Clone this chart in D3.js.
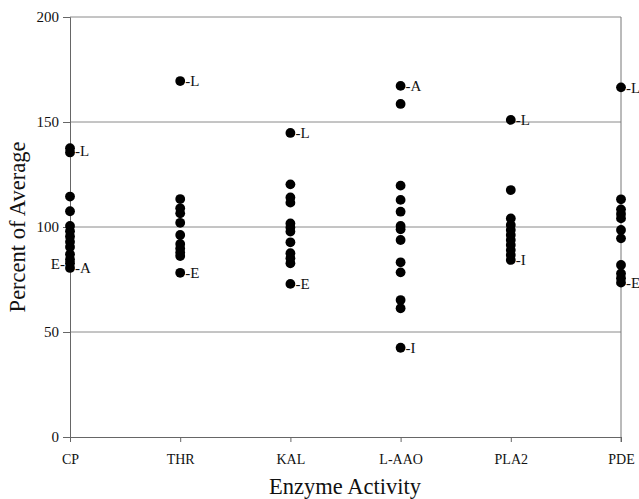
<!DOCTYPE html>
<html>
<head>
<meta charset="utf-8">
<script src="https://cdn.jsdelivr.net/npm/d3@7"></script>
<style>
  body { margin: 0; background: #fff; }
  text { font-family: "Liberation Serif", "Times New Roman", serif; fill: #111; }
</style>
</head>
<body>
<div class="chart"></div>
<script>
var width = 639
var height = 499

var categories = ['CP', 'THR', 'KAL', 'L-AAO', 'PLA2', 'PDE']
var yTicks = [0, 50, 100, 150, 200]

// percent of average, one list per enzyme
var cpValues = [137.5, 135.5, 114.5, 107.5, 100.5, 98, 95.5, 93, 90.5, 87, 84.5, 82.7, 80.5]
var thrValues = [169.5, 113.3, 108.9, 106.5, 102, 96.2, 91.9, 89.8, 87.8, 86.2, 78.2]
var kalValues = [144.8, 120.3, 114.1, 111.6, 101.7, 99.8, 97.8, 92.7, 87.5, 85.1, 82.7, 72.9]
var laaoValues = [167.2, 158.6, 119.7, 112.9, 107.3, 100.5, 98.9, 93.8, 83.2, 78.4, 65.2, 61.3, 42.5]
var pla2Values = [151, 117.6, 104.1, 101, 98.6, 96.2, 93.8, 91.4, 89, 86.7, 84.3]
var pdeValues = [166.5, 113.2, 108.4, 106.2, 104.1, 98.6, 94.6, 81.9, 77.9, 75.6, 73.5]

var allValues = [cpValues, thrValues, kalValues, laaoValues, pla2Values, pdeValues]

// annotated points: category, value, letter, which side
var pointLabels = [
    ['CP', 136.5, '-L', 'right'],
    ['CP', 82.7, 'E-', 'left'],
    ['CP', 80.5, '-A', 'right'],
    ['THR', 169.5, '-L', 'right'],
    ['THR', 78.2, '-E', 'right'],
    ['KAL', 144.8, '-L', 'right'],
    ['KAL', 72.9, '-E', 'right'],
    ['L-AAO', 167.2, '-A', 'right'],
    ['L-AAO', 42.5, '-I', 'right'],
    ['PLA2', 151, '-L', 'right'],
    ['PLA2', 84.3, '-I', 'right'],
    ['PDE', 166.5, '-L', 'right'],
    ['PDE', 73.5, '-E', 'right']
]

var points = []
categories.forEach(function (cat, i) {
    allValues[i].forEach(function (v) {
        points.push({ cat: cat, value: v })
    })
})

var svg = d3.select('.chart').append('svg')
    .attr('width', width)
    .attr('height', height)

var x = d3.scalePoint().domain(categories).range([70, 621])
var y = d3.scaleLinear().domain([0, 200]).range([437, 17])

// horizontal grid lines incl. top frame
svg.selectAll('.grid')
    .data(yTicks.filter(function (t) { return t > 0 }))
    .enter()
    .append('line')
    .attr('x1', 70)
    .attr('x2', 621)
    .attr('y1', function (d) { return y(d) })
    .attr('y2', function (d) { return y(d) })
    .attr('stroke', '#8a8a8a')
    .attr('stroke-width', 1)

// right frame
svg.append('line')
    .attr('x1', 621).attr('x2', 621)
    .attr('y1', y(200)).attr('y2', y(0) + 5)
    .attr('stroke', '#777')

var yAxis = svg.append('g')
    .attr('transform', 'translate(70,0)')
    .call(d3.axisLeft(y).tickValues(yTicks).tickSize(7).tickPadding(4))
yAxis.select('.domain').attr('stroke', '#666')
yAxis.selectAll('.tick line').attr('stroke', '#666')
yAxis.selectAll('text')
    .style('font-family', '"Liberation Serif", "Times New Roman", serif')
    .style('font-size', '15px')
    .attr('fill', '#111')

var xAxis = svg.append('g')
    .attr('transform', 'translate(0,' + y(0) + ')')
    .call(d3.axisBottom(x).tickSize(5).tickPadding(12).tickSizeOuter(0))
xAxis.select('.domain').attr('stroke', '#666')
xAxis.selectAll('.tick line').attr('stroke', '#666')
xAxis.selectAll('text')
    .style('font-family', '"Liberation Serif", "Times New Roman", serif')
    .style('font-size', '14px')
    .attr('fill', '#111')

svg.selectAll('.dot')
    .data(points)
    .enter()
    .append('circle')
    .attr('cx', function (d) { return x(d.cat) })
    .attr('cy', function (d) { return y(d.value) })
    .attr('r', 4.9)
    .attr('fill', '#000')

svg.selectAll('.plabel')
    .data(pointLabels)
    .enter()
    .append('text')
    .attr('x', function (d) { return x(d[0]) + (d[3] === 'right' ? 5 : -5) })
    .attr('y', function (d) { return y(d[1]) })
    .attr('dy', '0.35em')
    .attr('text-anchor', function (d) { return d[3] === 'right' ? 'start' : 'end' })
    .style('font-size', '15px')
    .text(function (d) { return d[2] })

svg.append('text')
    .attr('x', 345)
    .attr('y', 494)
    .attr('text-anchor', 'middle')
    .style('font-size', '22.5px')
    .text('Enzyme Activity')

svg.append('text')
    .attr('transform', 'translate(25,227) rotate(-90)')
    .attr('text-anchor', 'middle')
    .style('font-size', '22.5px')
    .text('Percent of Average')
</script>
</body>
</html>
